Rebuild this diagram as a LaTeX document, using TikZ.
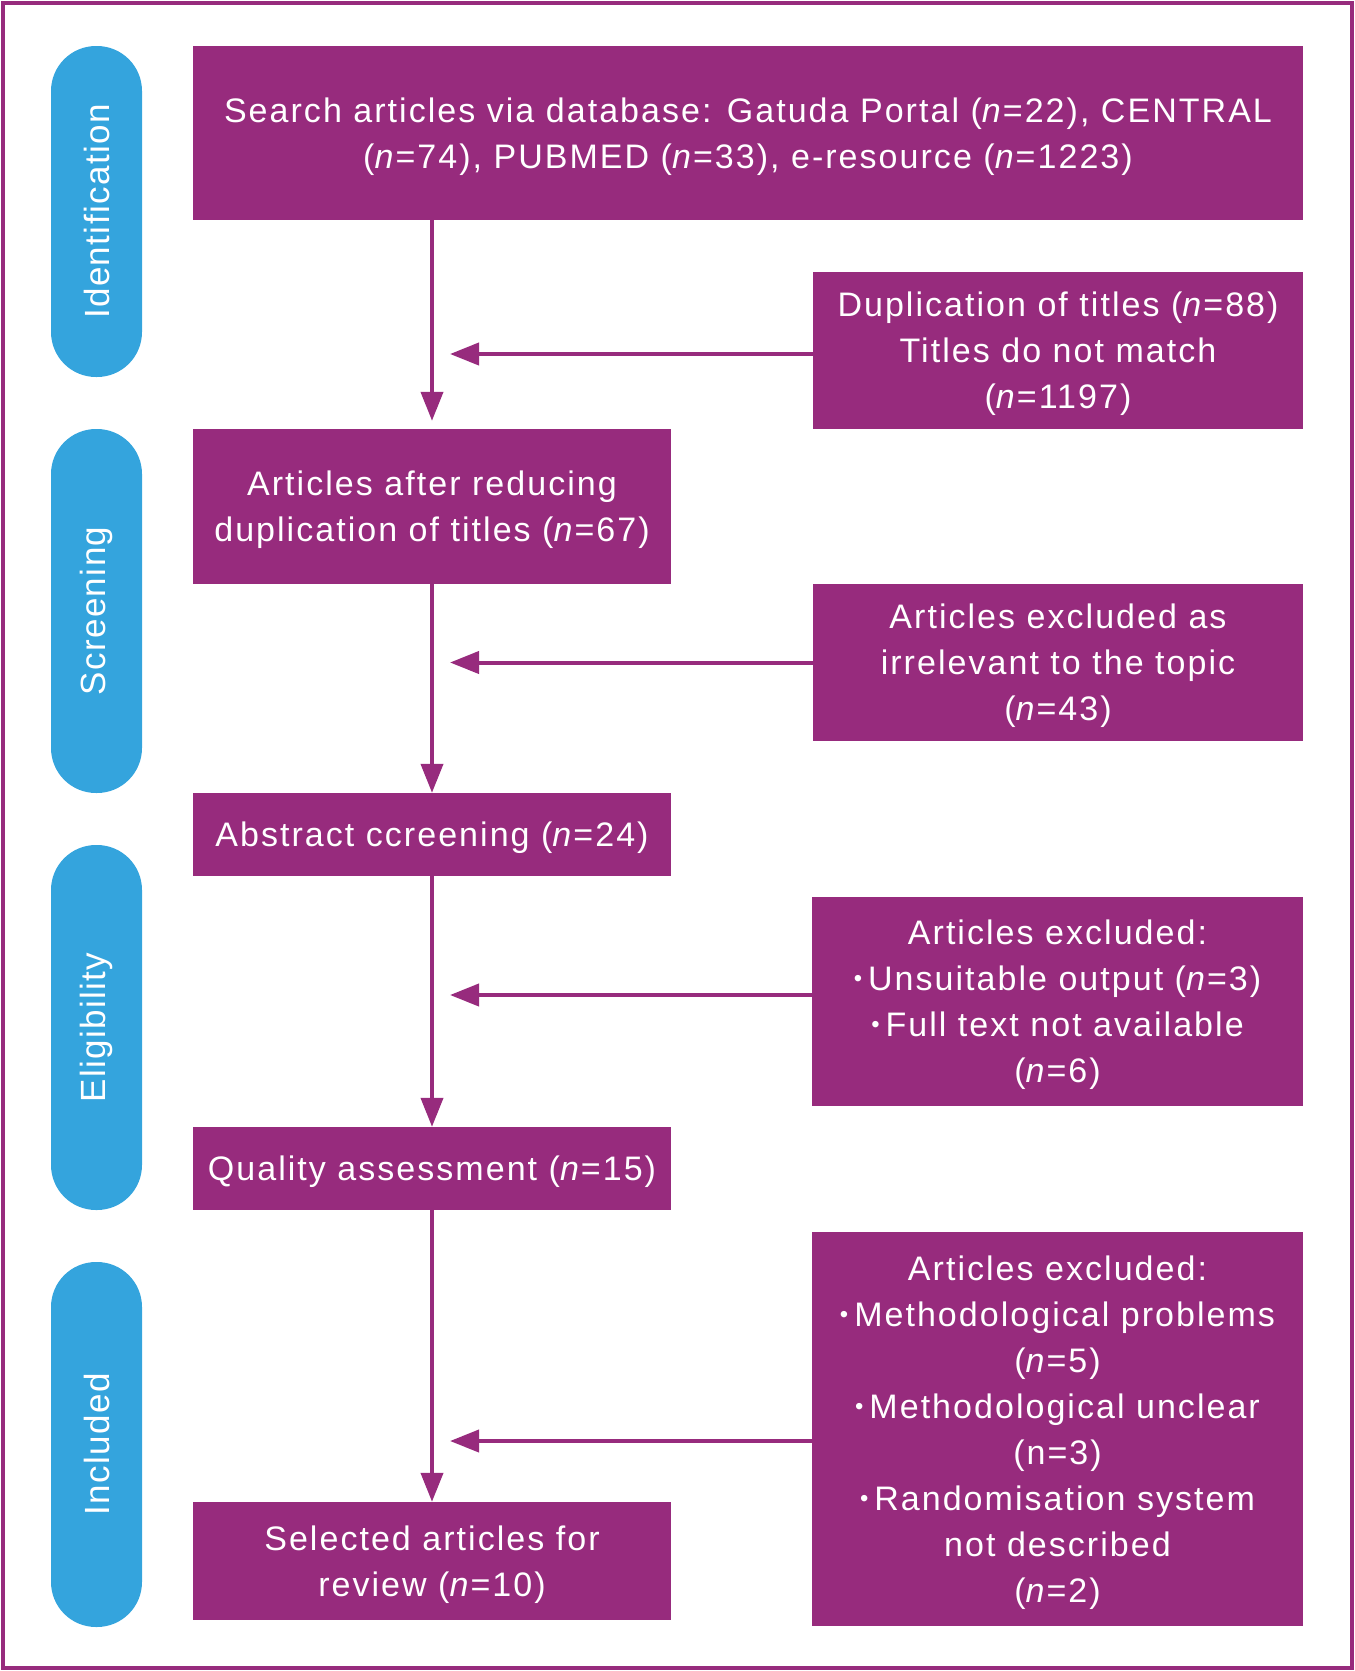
\documentclass[tikz,border=0pt]{standalone}
\usepackage{fontspec}
\setmainfont{Liberation Sans}[LetterSpace=6]
\newfontfamily\pillfont{Liberation Sans}[LetterSpace=4]
\usetikzlibrary{arrows.meta}
\definecolor{pur}{RGB}{151,43,125}
\definecolor{pblue}{RGB}{52,164,221}
\newcommand\bul{\raisebox{0.22ex}{\scalebox{0.7}{•}}\hspace{6pt}}
\newcommand\nn{\textit{n}}
\tikzset{
  box/.style={fill=pur, text=white, inner sep=0pt, align=center, text depth=0pt,
    font=\fontsize{34}{46}\selectfont},
  pill/.style={fill=pblue, text=white, inner sep=0pt, rotate=90,
    minimum height=91pt, rounded corners=45pt,
    font=\pillfont\fontsize{35}{40}\selectfont},
  arr/.style={draw=pur, line width=4pt, -{Triangle[length=29pt,width=22pt]}},
}
\begin{document}
\begin{tikzpicture}[x=1pt,y=-1pt]
\useasboundingbox (0,0) rectangle (1355,1671);
\draw[pur, line width=4pt] (3,3) rectangle (1352,1668);
% phase pills
\node[pill, minimum width=331pt] (p1) at (96.5,211.5) {Identification};
\node[pill, minimum width=364pt] (p2) at (96.5,611) {Screening};
\node[pill, minimum width=365pt] (p3) at (96.5,1027.5) {Eligibility};
\node[pill, minimum width=365pt] (p4) at (96.5,1444.5) {Included};
% boxes
\node[box, minimum width=1110pt, minimum height=174pt] (b1) at (748,133)
  {Search articles via database: Gatuda Portal (\nn=22), CENTRAL\\(\nn=74), PUBMED (\nn=33), e-resource (\nn=1223)};
\node[box, minimum width=490pt, minimum height=157pt] (b2) at (1058,350.5)
  {Duplication of titles (\nn=88)\\Titles do not match\\(\nn=1197)};
\node[box, minimum width=478pt, minimum height=155pt] (b3) at (432,506.5)
  {Articles after reducing\\duplication of titles (\nn=67)};
\node[box, minimum width=490pt, minimum height=157pt] (b4) at (1058,662.5)
  {Articles excluded as\\irrelevant to the topic\\(\nn=43)};
\node[box, minimum width=478pt, minimum height=83pt] (b5) at (432,834.5)
  {Abstract ccreening (\nn=24)};
\node[box, minimum width=491pt, minimum height=209pt] (b6) at (1057.5,1001.5)
  {Articles excluded:\\\bul Unsuitable output (\nn=3)\\\bul Full text not available\\(\nn=6)};
\node[box, minimum width=478pt, minimum height=83pt] (b7) at (432,1168.5)
  {Quality assessment (\nn=15)};
\node[box, minimum width=491pt, minimum height=394pt] (b8) at (1057.5,1429)
  {Articles excluded:\\\bul Methodological problems\\(\nn=5)\\\bul Methodological unclear\\(n=3)\\\bul Randomisation system\\not described\\(\nn=2)};
\node[box, minimum width=478pt, minimum height=118pt] (b9) at (432,1561)
  {Selected articles for\\review (\nn=10)};
% connectors
\coordinate (ax) at (450,0);
\draw[arr] (b1.south -| b3.north) -- ([yshift=8pt]b3.north);
\draw[arr] (b3.south) -- (b5.north);
\draw[arr] (b5.south) -- (b7.north);
\draw[arr] (b7.south) -- (b9.north);
\draw[arr] ([yshift=-3.5pt]b2.west) -- ([yshift=-3.5pt]b2.west -| ax);
\draw[arr] (b4.west) -- (b4.west -| ax);
\draw[arr] ([yshift=6.5pt]b6.west) -- ([yshift=6.5pt]b6.west -| ax);
\draw[arr] ([yshift=-12pt]b8.west) -- ([yshift=-12pt]b8.west -| ax);
\end{tikzpicture}
\end{document}
